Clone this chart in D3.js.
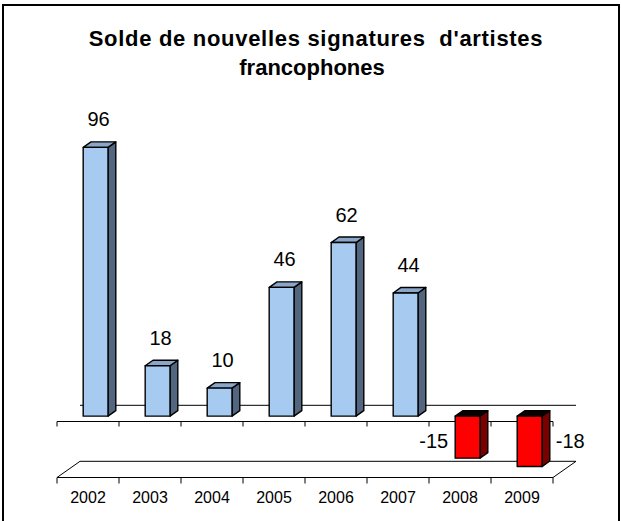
<!DOCTYPE html>
<html>
<head>
<meta charset="utf-8">
<script src="https://cdn.jsdelivr.net/npm/d3@7"></script>
<style>
  body { margin: 0; background: #fff; }
  text { font-family: "Liberation Sans", Arial, sans-serif; }
</style>
</head>
<body>
<script>
// data
const years = ["2002", "2003", "2004", "2005", "2006", "2007", "2008", "2009"];
const values = [96, 18, 10, 46, 62, 44, -15, -18];
const titleLines = ["Solde de nouvelles signatures  d'artistes", "francophones"];

const width = 621;
const height = 521;

// 3d look: depth offset of the whole plot and bar depth range
const DX = 23;
const DY = -16.2;
const z0 = 0.33;
const z1 = 0.67;

const svg = d3
  .select("body")
  .append("svg")
  .attr("width", width)
  .attr("height", height);

// outer frame
svg
  .append("rect")
  .attr("x", 3)
  .attr("y", 5)
  .attr("width", 616)
  .attr("height", 520)
  .attr("fill", "#fff")
  .attr("stroke", "#000")
  .attr("stroke-width", 2);

// title (first line is drawn a bit wider, like the original)
svg
  .append("g")
  .selectAll("text")
  .data(titleLines)
  .enter()
  .append("text")
  .attr("x", (d, i) => (i === 0 ? 316 : 312))
  .attr("y", (d, i) => 46 + i * 29)
  .attr("text-anchor", "middle")
  .attr("font-size", 22)
  .attr("font-weight", "bold")
  .attr("letter-spacing", (d, i) => (i === 0 ? 0.7 : 0))
  .style("white-space", "pre")
  .text((d) => d);

// scales
const xCat = d3.scaleBand().domain(years).range([57, 553]);
const xBar = d3
  .scaleBand()
  .domain(years)
  .range([57, 553])
  .paddingInner(0.6)
  .paddingOuter(0.3);
const y = d3.scaleLinear().domain([-20, 100]).range([477.5, 141.5]);

// project a point (front x, value, depth 0..1)
const P = (x, v, z) => [x + z * DX, y(v) + z * DY];
const pts = (arr) => arr.map((p) => p.join(",")).join(" ");

const axisG = svg.append("g").attr("stroke", "#000").attr("stroke-width", 1);
const x0 = xCat.range()[0];
const x1 = xCat.range()[1];
const bounds = years.map((d) => xCat(d)).concat([x1]);

// floor
axisG
  .append("polygon")
  .attr("points", pts([P(x0, -20, 0), P(x1, -20, 0), P(x1, -20, 1), P(x0, -20, 1)]))
  .attr("fill", "none");

// back zero line and front category axis
axisG
  .append("line")
  .attr("x1", P(x0, 0, 1)[0])
  .attr("y1", P(x0, 0, 1)[1])
  .attr("x2", P(x1, 0, 1)[0])
  .attr("y2", P(x1, 0, 1)[1]);
axisG
  .append("line")
  .attr("x1", x0)
  .attr("y1", y(0))
  .attr("x2", x1)
  .attr("y2", y(0));

// tick marks on the axis and on the floor
axisG
  .selectAll(".tick0")
  .data(bounds)
  .enter()
  .append("line")
  .attr("x1", (d) => d)
  .attr("x2", (d) => d)
  .attr("y1", y(0))
  .attr("y2", y(0) + 5);
axisG
  .selectAll(".tickf")
  .data(bounds)
  .enter()
  .append("line")
  .attr("x1", (d) => d)
  .attr("x2", (d) => d)
  .attr("y1", y(-20))
  .attr("y2", y(-20) + 6);

// category labels
svg
  .append("g")
  .selectAll("text")
  .data(years)
  .enter()
  .append("text")
  .attr("x", (d) => xCat(d) + xCat.bandwidth() / 2)
  .attr("y", 503)
  .attr("text-anchor", "middle")
  .attr("font-size", 16)
  .text((d) => d);

// bars
const data = years.map((d, i) => ({ year: d, value: values[i], i: i }));
const colors = {
  pos: { front: "#a6caf0", side: "#52667f", top: "#8aa6c8" },
  neg: { front: "#ff0000", side: "#7a0000", top: "#0a0000" },
};

const bars = svg
  .append("g")
  .selectAll("g")
  .data(data)
  .enter()
  .append("g")
  .attr("stroke", "#000")
  .attr("stroke-width", 1.4)
  .attr("stroke-linejoin", "round");

bars.each(function (d) {
  const g = d3.select(this);
  const c = d.value >= 0 ? colors.pos : colors.neg;
  const a = xBar(d.year);
  const b = a + xBar.bandwidth();
  const hi = Math.max(d.value, 0);
  const lo = Math.min(d.value, 0);
  // side
  g.append("polygon")
    .attr("points", pts([P(b, lo, z0), P(b, hi, z0), P(b, hi, z1), P(b, lo, z1)]))
    .attr("fill", c.side);
  // top
  g.append("polygon")
    .attr("points", pts([P(a, hi, z0), P(b, hi, z0), P(b, hi, z1), P(a, hi, z1)]))
    .attr("fill", c.top);
  // front
  g.append("polygon")
    .attr("points", pts([P(a, hi, z0), P(b, hi, z0), P(b, lo, z0), P(a, lo, z0)]))
    .attr("fill", c.front);
});

// value labels
svg
  .append("g")
  .selectAll("text")
  .data(data)
  .enter()
  .append("text")
  .attr("font-size", 20)
  .attr("text-anchor", (d) =>
    d.value >= 0 ? "middle" : d.i === data.length - 1 ? "start" : "end"
  )
  .attr("x", (d) => {
    const a = xBar(d.year);
    const b = a + xBar.bandwidth();
    if (d.value >= 0) return (a + b) / 2 + z0 * DX + 3;
    if (d.i === data.length - 1) return P(b, 0, z1)[0] + 6;
    return P(a, 0, z0)[0] - 7;
  })
  .attr("y", (d) =>
    d.value >= 0 ? P(0, d.value, z0)[1] - 21 : P(0, 0, z0)[1] + 32
  )
  .text((d) => d.value);
</script>
</body>
</html>
